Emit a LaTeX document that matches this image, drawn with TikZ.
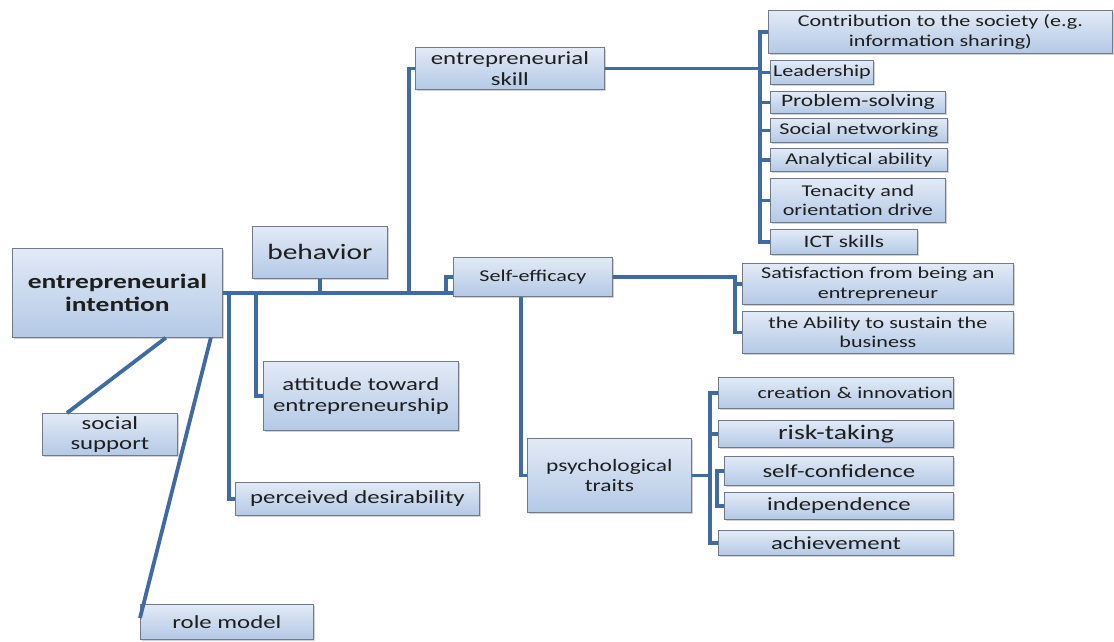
\documentclass[tikz,border=0pt]{standalone}
\usepackage{fontspec}
\setmainfont[FakeStretch=1.34]{Carlito}
\usepackage{tikz}
\usetikzlibrary{shadows}
\definecolor{linkblue}{RGB}{64,106,162}
\definecolor{boxline}{RGB}{112,122,138}
\definecolor{boxtop}{RGB}{226,234,246}
\definecolor{boxbot}{RGB}{180,201,230}
\definecolor{ink}{RGB}{30,30,30}

\begin{document}
\begin{tikzpicture}[x=1pt,y=-1pt,
  box/.style={draw=boxline,line width=0.8pt,top color=boxtop,bottom color=boxbot,
              drop shadow={opacity=0.35,shadow xshift=1.6pt,shadow yshift=-1.6pt},
              anchor=north west,align=center,inner sep=0.5pt,text=ink,
              font=\fontsize{16.5}{19.5}\selectfont},
  fmid/.style={font=\fontsize{17.5}{20}\selectfont},
  fbig/.style={font=\fontsize{18.5}{20.5}\selectfont},
  link/.style={draw=linkblue,line width=3.8pt}]

\useasboundingbox[fill=white] (0,0) rectangle (1114,641);

% left side
\node[box,minimum width=210,minimum height=89,
      font=\fontsize{20.5}{23}\selectfont\bfseries] (ei) at (12,248) {entrepreneurial\\intention};
\node[box,minimum width=135,minimum height=52,font=\fontsize{22}{24}\selectfont] (beh) at (252,226) {behavior};
\node[box,fbig,minimum width=195,minimum height=69] (att) at (263,361) {attitude toward\\entrepreneurship};
\node[box,fbig,minimum width=244,minimum height=33] (pd) at (235,482) {perceived desirability};
\node[box,fbig,minimum width=135,minimum height=42] (ss) at (42,413) {social\\support};
\node[box,fbig,minimum width=173,minimum height=35] (rm) at (140,604) {role model};

% middle
\node[box,fbig,minimum width=189,minimum height=42] (es) at (415,47) {entrepreneurial\\skill};
\node[box,minimum width=159,minimum height=39] (se) at (453,257) {Self-efficacy};
\node[box,fmid,minimum width=164,minimum height=74] (pt) at (527,438) {psychological\\traits};

% skills
\node[box,minimum width=344,minimum height=43] (c1) at (768,10) {Contribution to the society (e.g.\\information sharing)};
\node[box,minimum width=103,minimum height=24] (lead) at (770,60) {Leadership};
\node[box,fmid,minimum width=175,minimum height=22] (ps) at (770,91) {Problem-solving};
\node[box,minimum width=177,minimum height=24] (sn) at (770,118) {Social networking};
\node[box,minimum width=177,minimum height=23] (aa) at (770,148) {Analytical ability};
\node[box,minimum width=175,minimum height=44] (ten) at (770,178) {Tenacity and\\orientation drive};
\node[box,fmid,minimum width=147,minimum height=25] (ict) at (770,229) {ICT skills};

% self-efficacy outcomes
\node[box,minimum width=271,minimum height=41] (sat) at (742,263) {Satisfaction from being an\\entrepreneur};
\node[box,minimum width=271,minimum height=42] (ab) at (742,311) {the Ability to sustain the\\business};

% traits
\node[box,align=right,text width=234,minimum height=31] (cre) at (718,377) {creation \& innovation};
\node[box,minimum width=235,minimum height=27,font=\fontsize{20.7}{22}\selectfont] (risk) at (718,420) {risk-taking};
\node[box,fbig,minimum width=229,minimum height=29] (sc) at (724,456) {self-confidence};
\node[box,fbig,minimum width=229,minimum height=27] (ind) at (724,492) {independence};
\node[box,fbig,minimum width=235,minimum height=25] (ach) at (718,530) {achievement};

% connectors
\draw[link] (ei.east) -- (ei.east -| se.west);
\draw[link] ([xshift=-7pt]se.west |- ei.east) |- (se.west);
\draw[link] (beh.south) -- (beh.south |- ei.east);
\draw[link] (es.west) -- ++(-6,0) |- (ei.east);
\draw[link] (att.west) -| ([xshift=33pt]ei.east);
\draw[link] (pd.west) -| ([xshift=6pt]ei.east);
\draw[link] ([xshift=-57pt]ei.south east) -- ([xshift=25pt]ss.north west);
\draw[link] ([xshift=-12pt]ei.south east) -- ([yshift=-14pt]rm.north west);
\draw[link] ([xshift=-12pt]se.south) |- (pt.west);

\draw[link] (es.east) -- ([xshift=-8pt]c1.west |- es.east);
\draw[link] (c1.west) -- ++(-8,0) |- (ict.west);
\foreach \n in {lead,ps,sn,aa,ten}
  \draw[link] (\n.west) -- ++(-9,0);

\draw[link] (se.east) -| ([xshift=-7pt]ab.west) -- (ab.west);
\draw[link] (sat.west) -- ++(-7,0);

\draw[link] (pt.east) -- ([xshift=-8pt]cre.west |- pt.east);
\draw[link] (cre.west) -- ++(-8,0) |- (ach.west);
\draw[link] (risk.west) -- ++(-8,0);
\draw[link] (sc.west) -- ++(-7,0) |- (ind.west);
\end{tikzpicture}
\end{document}
